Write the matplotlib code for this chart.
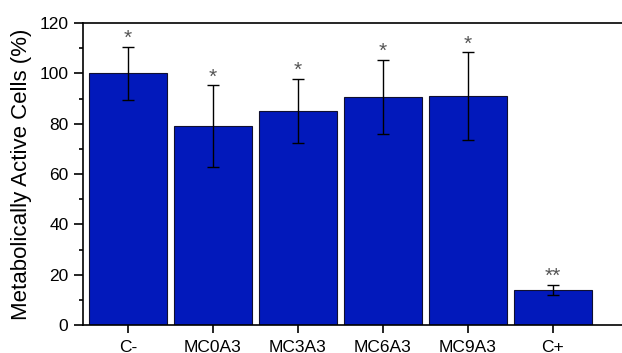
import matplotlib
matplotlib.use("Agg")
import matplotlib.pyplot as plt
from matplotlib.ticker import MultipleLocator

# data
groups = ["C-", "MC0A3", "MC3A3", "MC6A3", "MC9A3", "C+"]
activity = [100, 79, 85, 90.6, 91, 14]
errors = [10.5, 16.3, 12.8, 14.7, 17.4, 2.0]
marks = ["*", "*", "*", "*", "*", "**"]

plt.rcParams['font.family'] = ['Liberation Sans', 'DejaVu Sans']

fig = plt.figure(figsize=(6.22, 3.53), dpi=100)
ax = fig.add_axes([0.1334, 0.0793, 0.94, 0.8555])

x = range(len(groups))
ax.bar(x, activity, width=0.92, color="#0219bb", edgecolor="#101030", linewidth=0.8,
       yerr=errors, error_kw=dict(ecolor="black", elinewidth=1.0, capsize=4, capthick=1.0))

for i in x:
    ax.text(i, activity[i] + errors[i] - 0.5, marks[i], ha="center", va="bottom",
            color="#555555", fontsize=15)

ax.set_xlim(-0.53, 6.35)
ax.set_ylim(0, 120)
ax.set_xticks(list(x))
ax.set_xticklabels(groups)
ax.yaxis.set_major_locator(MultipleLocator(20))
ax.yaxis.set_minor_locator(MultipleLocator(10))
ax.tick_params(axis="both", labelsize=12.5, direction="out", length=6.5, width=1.2, pad=4)
ax.tick_params(axis="y", which="minor", length=3, width=1.2)
ax.tick_params(axis="x", length=5.5, pad=5)
ax.set_ylabel("Metabolically Active Cells (%)", fontsize=16, labelpad=5)
for s in ["left", "bottom", "top"]:
    ax.spines[s].set_linewidth(1.2)
ax.spines["right"].set_visible(False)

fig.savefig("out.png", dpi=100)
